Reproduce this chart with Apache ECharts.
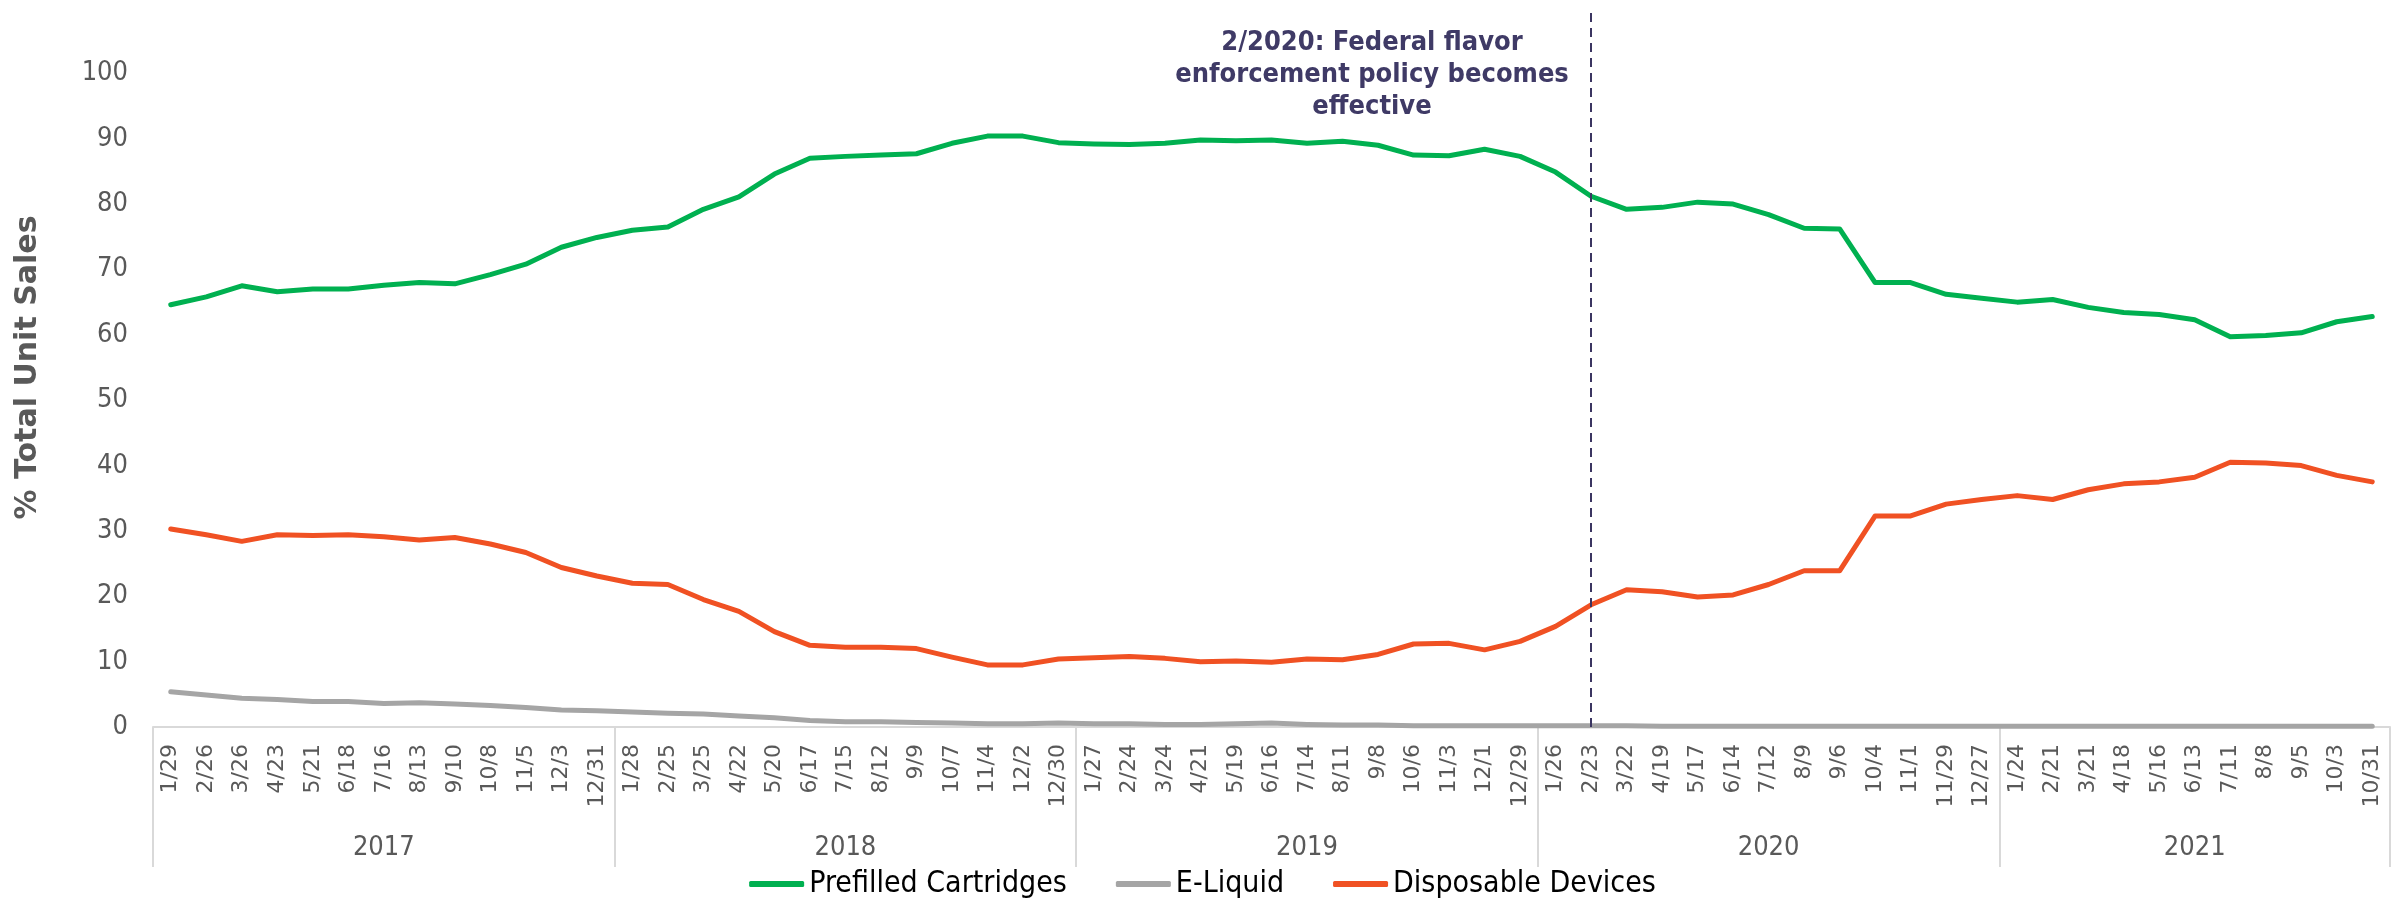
<!DOCTYPE html>
<html>
<head>
<meta charset="utf-8">
<title>% Total Unit Sales by product type</title>
<script src="https://cdn.jsdelivr.net/npm/echarts@6.0.0/dist/echarts.min.js"></script>
<style>
  html, body { margin: 0; padding: 0; background: #ffffff; }
  #chart { width: 2405px; height: 908px; }
</style>
</head>
<body>
<div id="chart"></div>
<script>
// four-week periods, grouped by year
const weeks2017 = ['1/29', '2/26', '3/26', '4/23', '5/21', '6/18', '7/16', '8/13', '9/10', '10/8', '11/5', '12/3', '12/31'];
const weeks2018 = ['1/28', '2/25', '3/25', '4/22', '5/20', '6/17', '7/15', '8/12', '9/9', '10/7', '11/4', '12/2', '12/30'];
const weeks2019 = ['1/27', '2/24', '3/24', '4/21', '5/19', '6/16', '7/14', '8/11', '9/8', '10/6', '11/3', '12/1', '12/29'];
const weeks2020 = ['1/26', '2/23', '3/22', '4/19', '5/17', '6/14', '7/12', '8/9', '9/6', '10/4', '11/1', '11/29', '12/27'];
const weeks2021 = ['1/24', '2/21', '3/21', '4/18', '5/16', '6/13', '7/11', '8/8', '9/5', '10/3', '10/31'];
const years = ['2017', '2018', '2019', '2020', '2021'];

const prefilledCartridges = [
    64.6, 65.8, 67.5, 66.6, 67.0, 67.0, 67.6, 68.0, 67.8, 69.2, 70.8, 73.4, 74.9,
    76.0, 76.5, 79.2, 81.1, 84.6, 87.0, 87.3, 87.5, 87.7, 89.3, 90.4, 90.4, 89.4,
    89.2, 89.1, 89.3, 89.8, 89.7, 89.8, 89.3, 89.6, 89.0, 87.5, 87.4, 88.4, 87.3,
    84.9, 81.2, 79.2, 79.5, 80.3, 80.0, 78.4, 76.3, 76.2, 68.0, 68.0, 66.2, 65.6,
    65.0, 65.4, 64.2, 63.4, 63.1, 62.3, 59.7, 59.9, 60.3, 62.0, 62.8
];
const eLiquid = [
    5.4, 4.9, 4.4, 4.2, 3.9, 3.9, 3.6, 3.7, 3.5, 3.3, 3.0, 2.6, 2.5,
    2.3, 2.1, 2.0, 1.7, 1.4, 1.0, 0.8, 0.8, 0.7, 0.6, 0.5, 0.5, 0.6,
    0.5, 0.5, 0.4, 0.4, 0.5, 0.6, 0.4, 0.3, 0.3, 0.2, 0.2, 0.2, 0.2,
    0.2, 0.2, 0.2, 0.1, 0.1, 0.1, 0.1, 0.1, 0.1, 0.1, 0.1, 0.1, 0.1,
    0.1, 0.1, 0.1, 0.1, 0.1, 0.1, 0.1, 0.1, 0.1, 0.1, 0.1
];
const disposableDevices = [
    30.3, 29.4, 28.4, 29.4, 29.3, 29.4, 29.1, 28.6, 29.0, 28.0, 26.7, 24.4, 23.1,
    22.0, 21.8, 19.5, 17.7, 14.6, 12.5, 12.2, 12.2, 12.0, 10.7, 9.5, 9.5, 10.4,
    10.6, 10.8, 10.5, 10.0, 10.1, 9.9, 10.4, 10.3, 11.1, 12.7, 12.8, 11.8, 13.1,
    15.4, 18.7, 21.0, 20.7, 19.9, 20.2, 21.8, 23.9, 23.9, 32.3, 32.3, 34.1, 34.8,
    35.4, 34.8, 36.3, 37.2, 37.5, 38.2, 40.5, 40.4, 40.0, 38.5, 37.5
];

const eventWeek = '2/23';
const eventText = '2/2020: Federal flavor\nenforcement policy becomes\neffective';

const narrowFont = "'DejaVu Sans Condensed', 'Liberation Sans Narrow', 'DejaVu Sans', sans-serif";

const yearGroups = [weeks2017, weeks2018, weeks2019, weeks2020, weeks2021];
const categories = [].concat(...yearGroups);

// first index of each year and the middle index (where the year label goes)
const groupStarts = [];
const yearAtMiddle = {};
let pos = 0;
yearGroups.forEach(function (g, i) {
    groupStarts.push(pos);
    yearAtMiddle[pos + Math.floor(g.length / 2)] = years[i];
    pos += g.length;
});

function initChart(dom) {
    const chart = echarts.init(dom, null, { width: 2405, height: 908, devicePixelRatio: 1 });

    var lineSeries = function (name, data, color) {
        return {
            name: name,
            type: 'line',
            data: data,
            symbol: 'none',
            smooth: false,
            lineStyle: { width: 5, color: color, cap: 'round', join: 'round' },
            itemStyle: { color: color },
            emphasis: { disabled: true }
        };
    };

    var green = lineSeries('Prefilled Cartridges', prefilledCartridges, '#00b050');
    green.markLine = {
        silent: true,
        symbol: 'none',
        label: { show: false },
        lineStyle: { type: [9, 6], width: 2, color: '#3b3561' },
        data: [{ xAxis: eventWeek }]
    };

    var option = {
        backgroundColor: '#ffffff',
        animation: false,
        grid: { left: 153, right: 15, top: 8, bottom: 181 },
        legend: {
            bottom: 4,
            left: 'center',
            icon: 'roundRect',
            itemWidth: 55,
            itemHeight: 6,
            itemGap: 49,
            textStyle: { fontFamily: narrowFont, fontSize: 30, color: '#000000' },
            data: ['Prefilled Cartridges', 'E-Liquid', 'Disposable Devices']
        },
        graphic: [{
            type: 'text',
            x: 1372,
            y: 27,
            style: {
                text: eventText,
                align: 'center',
                verticalAlign: 'top',
                fontFamily: narrowFont,
                fontWeight: 'bold',
                fontSize: 27,
                lineHeight: 32,
                fill: '#3f3a66'
            }
        }],
        xAxis: [{
            type: 'category',
            data: categories,
            position: 'bottom',
            axisLine: { lineStyle: { color: '#d9d9d9', width: 2 } },
            axisTick: { show: false },
            axisLabel: {
                interval: 0,
                rotate: 90,
                margin: 17,
                fontFamily: "'DejaVu Sans', sans-serif",
                fontSize: 22,
                color: '#595959'
            },
            splitLine: { show: false }
        }, {
            type: 'category',
            data: categories,
            position: 'bottom',
            axisLine: { show: false },
            axisTick: {
                show: true,
                length: 140,
                interval: function (index) { return groupStarts.indexOf(index) >= 0; },
                lineStyle: { color: '#d9d9d9', width: 2 }
            },
            axisLabel: {
                interval: function (index) { return yearAtMiddle[index] !== undefined; },
                formatter: function (value, index) { return yearAtMiddle[index] || ''; },
                margin: 107,
                fontFamily: narrowFont,
                fontSize: 27,
                color: '#595959'
            },
            splitLine: { show: false }
        }],
        yAxis: {
            type: 'value',
            min: 0,
            max: 110,
            interval: 10,
            name: '% Total Unit Sales',
            nameLocation: 'middle',
            nameGap: 110,
            nameTextStyle: {
                fontFamily: "'DejaVu Sans', sans-serif",
                fontWeight: 'bold',
                fontSize: 30,
                color: '#595959'
            },
            axisLine: { show: false },
            axisTick: { show: false },
            splitLine: { show: false },
            axisLabel: {
                margin: 25,
                fontFamily: narrowFont,
                fontSize: 27,
                color: '#595959',
                formatter: function (v) { return v > 100 ? '' : String(v); }
            }
        },
        series: [
            green,
            lineSeries('E-Liquid', eLiquid, '#a5a5a5'),
            lineSeries('Disposable Devices', disposableDevices, '#f05123')
        ]
    };

    chart.setOption(option);
    return chart;
}

initChart(document.getElementById('chart'));
</script>
</body>
</html>
